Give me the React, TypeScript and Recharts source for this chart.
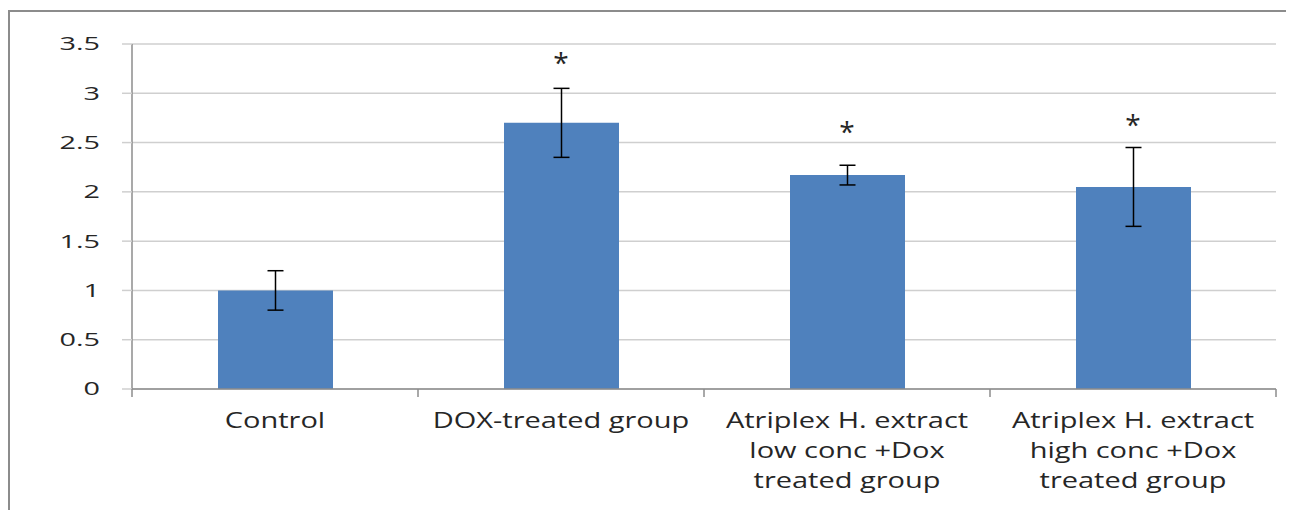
import React from 'react';
import {
  ComposedChart,
  Bar,
  Scatter,
  ErrorBar,
  XAxis,
  YAxis,
  CartesianGrid,
} from 'recharts';

const groups = [
  'Control',
  'DOX-treated group',
  'Atriplex H. extract\nlow conc +Dox\ntreated group',
  'Atriplex H. extract\nhigh conc +Dox\ntreated group',
];
const means = [1.0, 2.7, 2.17, 2.05];
const errors = [0.2, 0.35, 0.1, 0.4];
// height where the significance star sits (null = none)
const stars = [null, 3.38, 2.68, 2.75];
const yTicks = [0, 0.5, 1, 1.5, 2, 2.5, 3, 3.5];

const data = groups.map((g, i) => ({
  name: g,
  value: means[i],
  err: errors[i],
  star: stars[i],
}));

const FONT = '"Open Sans", sans-serif';
const TEXT = '#262626';
const AXIS = '#8c8c8c';

// category label plus the little tick marks at the category edges
function XTick(props: any) {
  const { x, y, payload, width, visibleTicksCount, index } = props;
  const n = visibleTicksCount || groups.length;
  const lines = String(payload.value).split('\n');
  const band = width / n;
  const edges = [x - band / 2];
  if (index === n - 1) edges.push(x + band / 2);
  return (
    <g>
      {edges.map((ex, i) => (
        <line key={i} x1={ex} x2={ex} y1={y} y2={y + 8} stroke={AXIS} strokeWidth={1.5} />
      ))}
      <g transform={`translate(${x},${y}) scale(1.38,1)`}>
        {lines.map((l, i) => (
          <text
            key={i}
            x={0}
            y={39 + i * 30}
            textAnchor="middle"
            fontFamily={FONT}
            fontSize={21}
            fill={TEXT}
          >
            {l}
          </text>
        ))}
      </g>
    </g>
  );
}

function YTick(props: any) {
  const { x, y, payload } = props;
  return (
    <g transform={`translate(${x},${y}) scale(1.6,1)`}>
      <text x={0} y={0} dy="0.36em" textAnchor="end" fontFamily={FONT} fontSize={18} fill={TEXT}>
        {payload.value}
      </text>
    </g>
  );
}

function Star(props: any) {
  const { cx, cy } = props;
  if (cx == null || cy == null) return null;
  return (
    <text x={cx} y={cy} dy="0.6em" textAnchor="middle" fontFamily={FONT} fontSize={28} fill={TEXT}>
      *
    </text>
  );
}

export default function App() {
  return (
    <>
      <style>{'html,body{overflow:hidden}'}</style>
      <div
        style={{
          marginTop: 2,
          width: 1300,
          height: 500,
          boxSizing: 'border-box',
          borderTop: '2px solid #8c8c8c',
          borderLeft: '2px solid #8c8c8c',
          background: '#fff',
          overflow: 'hidden',
        }}
      >
        <ComposedChart
          width={1274}
          height={498}
          data={data}
          margin={{ top: 32, right: 8, left: 0, bottom: 0 }}
          barSize={115}
        >
          <CartesianGrid vertical={false} stroke="#cfcfcf" strokeWidth={1.5} />
          <XAxis
            dataKey="name"
            height={121}
            interval={0}
            tickLine={false}
            tickSize={0}
            tickMargin={0}
            axisLine={{ stroke: AXIS, strokeWidth: 1.5 }}
            tick={<XTick />}
          />
          <YAxis
            width={122}
            domain={[0, 3.5]}
            ticks={yTicks}
            interval={0}
            tickSize={10}
            tickMargin={22}
            tickLine={{ stroke: '#cfcfcf', strokeWidth: 1.5 }}
            axisLine={{ stroke: AXIS, strokeWidth: 1.5 }}
            tick={<YTick />}
          />
          <Bar dataKey="value" fill="#4f81bd" isAnimationActive={false}>
            <ErrorBar dataKey="err" width={8} stroke="#000" strokeWidth={1.5} />
          </Bar>
          <Scatter dataKey="star" shape={<Star />} isAnimationActive={false} />
        </ComposedChart>
      </div>
    </>
  );
}
